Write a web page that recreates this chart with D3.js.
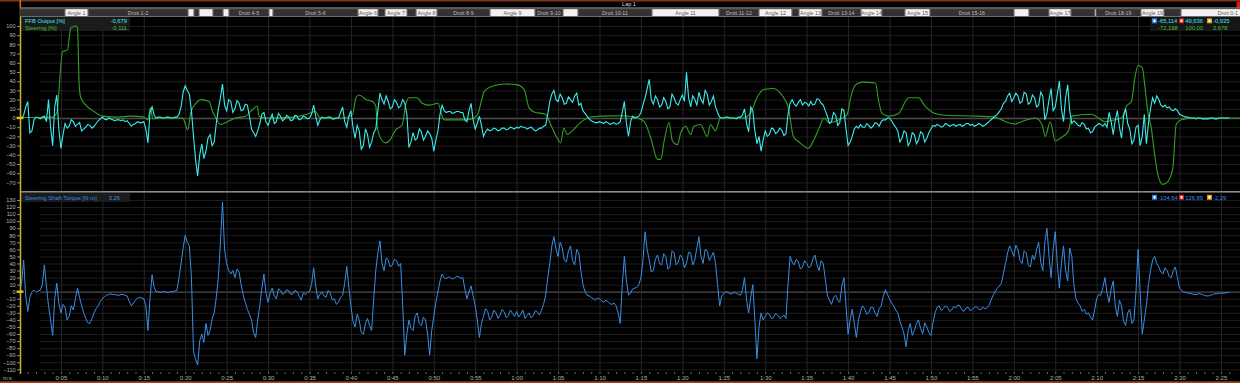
<!DOCTYPE html>
<html>
<head>
<meta charset="utf-8">
<script src="https://cdn.jsdelivr.net/npm/d3@7"></script>
<style>
  body { margin: 0; background: #000; }
  svg { display: block; font-family: "Liberation Sans", Arial, sans-serif; }
</style>
</head>
<body>
<div id="chart"></div>
<script>
// ---- data ----
const sampleStep = 0.25; // seconds between samples of the two logged channels

// FFB Output [%], one value every 0.25 s from 0:00 (20 values per row = 5 s)
const ffbOutput = [
  1, 0, 3, 12, 18, -16, -14, -2, 1, 0, -1, 1, 2, -4, 20, -10, -30, 12, 25, -12,               // 0 s
  -33, -18, -6, -11, -9, -2, -4, -9, -7, -5, -14, -12, -10, -7, -8, -11, -9, -6, -3, -1,      // 5 s
  1, -1, -2, 0, -1, -2, -3, -2, -2, -3, -2, -4, -3, -6, -9, -7, -6, -4, -5, -5,               // 10 s
  -4, -12, -27, 6, 12, 3, 0, 1, 1, 0, 0, 1, 1, 0, 0, 1, 1, 4, 12, 28,                         // 15 s
  35, 30, 26, 8, -20, -45, -63, -40, -28, -44, -36, -22, -18, -30, -26, -6, 10, 22, 37, 14,   // 20 s
  8, 20, 18, 6, 10, 19, 16, 8, 9, 15, 14, 2, -12, -16, -20, -14, -6, 4, 6, -4,                // 25 s
  -8, -1, 4, -6, -4, 5, 2, -3, -1, 3, 1, -3, -2, 3, 2, -2, -1, 2, 1, -1,                      // 30 s
  0, 4, 14, 2, -8, -2, 1, 0, 0, 1, 1, -1, -1, 0, 0, 6, 12, -4, -10, 2,                        // 35 s
  8, -10, -22, -8, -14, -34, -30, -12, -18, -32, -26, -16, -12, 8, 27, 20, 15, 24, 18, 10,    // 40 s
  12, 20, 17, 11, 13, 20, 16, 4, -32, -26, -16, -24, -22, -12, -15, -24, -20, -14, -17, -22,  // 45 s
  -36, -24, -14, 4, 14, 8, 6, 7, 7, 5, 6, 7, 7, 6, 6, -2, -4, 8, 16, -2,                      // 50 s
  -12, -6, 2, -8, -20, -15, -12, -14, -13, -11, -12, -14, -13, -11, -11, -13, -12, -10, -11, -12, // 55 s
  -10, -11, -9, -10, -10, -12, -11, -10, -12, -14, -13, -11, -11, -9, -8, 4, 18, 26, 30, 20,  // 60 s
  18, 26, 22, 15, 16, 23, 20, 17, 24, 27, 14, 16, 8, 5, 2, -1, -3, -4, -5, -5,                // 65 s
  -4, -5, -6, -4, -5, -7, -6, -5, -7, -6, -4, 6, 18, -6, -20, -4, 2, 0, 1, 2,                 // 70 s
  6, 14, 22, 32, 42, 20, 15, 24, 20, 12, 14, 22, 18, 10, 12, 26, 22, 16, 14, 20,              // 75 s
  25, 18, 49.6, 22, 12, 24, 20, 14, 28, 20, 16, 30, 26, 14, 18, 24, 12, 6, 1, 0,              // 80 s
  0, 1, 1, 0, 0, 0, -1, 1, 1, 3, 10, -6, -15, 12, 8, -14, -28, -20, -36, -24,                 // 85 s
  -14, -20, -18, -11, -12, -17, -15, -11, -13, -19, -17, 4, 16, 20, 15, 13, 17, 20, 14, 17,   // 90 s
  16, 13, 18, 14, 15, 21, 20, 16, 14, 8, 2, -6, -4, 6, 3, -8, -5, 10, 8, -12,                 // 95 s
  -30, -26, -20, -12, -9, -11, -7, -10, -10, -6, -8, -11, -9, -5, -6, -9, -4, -2, -2, 0,      // 100 s
  0, -3, -7, -10, -14, -26, -22, -14, -16, -30, -26, -16, -18, -28, -24, -15, -17, -26, -22, -16, // 105 s
  -12, -8, -9, -7, -8, -10, -9, -6, -7, -9, -8, -7, -9, -8, -7, -9, -8, -6, -6, -8,           // 110 s
  -7, -9, -8, -6, -7, -9, -8, -6, -4, -2, 0, 2, 4, 7, 10, 16, 18, 24, 27, 18,                 // 115 s
  22, 27, 24, 16, 18, 28, 26, 15, 17, 25, 22, 12, 14, 28, 24, -2, 5, 20, 32, 8,               // 120 s
  12, 26, 40, 10, -4, 22, 36, 8, -6, -3, -5, -8, -9, -5, -7, -12, -11, -16, -15, -10,         // 125 s
  -8, -6, -7, -9, -6, -10, 6, -4, -18, -2, 8, -10, -22, 2, 10, -6, -12, -28, -24, -10,        // 130 s
  -8, -30, -20, 4, -28, -6, 10, 22, 16, 24, 20, 14, 12, 14, 11, 12, 9, 8, 10, 8,              // 135 s
  4, 3, 2, 1, 1, 0, 0, 0, -1, 0, 0, -1, -1, -1, -1, 0, 0, -1, -1, 0,                          // 140 s
  0, 0, 0, 0, 0                                                                               // 145 s
];

// Steering Shaft Torque [N·m], one value every 0.25 s from 0:00
const shaftTorque = [
  2, 12, 45, -6, -28, -8, 0, 2, -1, 1, 2, 10, 38, 8, -20, -40, -62, -10, 12, -16,             // 0 s
  -30, -18, -22, -40, -35, -20, -26, -10, 5, -8, -20, -30, -38, -44, -45, -38, -30, -24, -20, -14, // 5 s
  -10, -7, -5, -4, -3, -4, -4, -5, -5, -4, -4, -5, -6, -14, -20, -16, -12, -9, -8, -9,        // 10 s
  -10, -20, -55, -10, 24, 6, 0, 0, -1, 0, 0, -1, -1, 0, 0, 1, 2, 20, 40, 62,                  // 15 s
  80, 70, 65, 20, -85, -96, -104, -70, -60, -72, -45, -62, -55, -38, -30, -8, 20, 70, 127, 60, // 20 s
  40, 30, 25, 30, 20, 32, 28, 10, -5, -15, -25, -32, -40, -58, -65, -40, -20, 5, 25, -2,      // 25 s
  -15, -2, 5, -6, -10, 4, 2, -4, -2, 3, 1, -4, -3, 2, 0, -6, -12, -2, -4, -1,                 // 30 s
  0, 10, 34, 8, -10, -4, 0, -6, -8, 2, -2, -12, -10, -18, -15, -8, -5, 12, 36, 6,             // 35 s
  -20, -42, -50, -32, -40, -58, -60, -45, -38, -48, -55, -10, 30, 55, 72, 40, 30, 48, 45, 35, // 40 s
  38, 46, 44, 36, 40, -20, -90, -60, -40, -52, -55, -35, -30, -45, -48, -36, -40, -60, -90, -55, // 45 s
  -35, -15, 0, 15, 25, 20, 18, 21, 20, 18, 19, 22, 21, 19, 20, 4, -10, 0, 8, -6,              // 50 s
  -20, -40, -65, -45, -35, -24, -28, -40, -36, -26, -30, -38, -33, -25, -29, -37, -34, -26, -31, -35, // 55 s
  -28, -36, -32, -26, -38, -34, -30, -37, -34, -27, -29, -33, -26, -18, -5, 20, 40, 65, 78, 60, // 60 s
  50, 70, 62, 45, 42, 58, 65, 44, 38, 60, 55, 30, 10, 0, -5, -6, -8, -10, -12, -9,            // 65 s
  -10, -13, -15, -12, -14, -17, -18, -16, -20, -30, -45, 10, 50, 15, -5, -2, 4, 5, 6, 10,     // 70 s
  20, 45, 85, 60, 45, 28, 30, 46, 52, 40, 38, 54, 50, 32, 35, 58, 55, 38, 42, 52,             // 75 s
  48, 34, 40, 56, 55, 38, 45, 62, 78, 50, 40, 60, 58, 44, 50, 56, 40, 10, -20, -6,            // 80 s
  -2, 0, -1, -3, -3, -1, -2, -4, -5, 2, 20, -12, -30, -8, 10, -40, -95, -50, -30, -40,        // 85 s
  -35, -30, -32, -38, -37, -31, -33, -38, -36, -33, -38, 10, 50, 42, 38, 46, 42, 32, 35, 44,  // 90 s
  40, 34, 36, 46, 52, 38, 30, 44, 40, 18, -5, -12, -18, -8, -5, -12, -15, 8, 20, -20,         // 95 s
  -60, -40, -25, -45, -65, -40, -28, -20, -24, -32, -30, -22, -22, -30, -35, -24, -20, -6, 3, -4, // 100 s
  -10, -16, -20, -26, -30, -42, -50, -60, -78, -55, -45, -62, -55, -45, -40, -52, -60, -44, -50, -58, // 105 s
  -62, -44, -30, -22, -20, -27, -24, -20, -22, -28, -26, -21, -23, -19, -20, -26, -28, -23, -22, -27, // 110 s
  -25, -22, -21, -25, -26, -22, -24, -23, -20, -12, -5, 0, 5, 8, 12, 26, 40, 55, 65, 58,      // 115 s
  50, 66, 60, 44, 40, 58, 55, 38, 35, 52, 45, 60, 70, 42, 30, 70, 90, 50, 20, 60,             // 120 s
  85, 40, 5, 40, 65, 30, 15, 62, 50, 10, -10, -16, -20, -28, -25, -32, -30, -36, -40, -26,    // 125 s
  -10, -4, -5, 6, 20, -2, -15, 4, 15, -20, -35, -12, -20, -42, -48, -30, -25, -45, -40, 0,    // 130 s
  60, 0, -60, -40, -20, 10, 30, 45, 50, 40, 35, 28, 25, 34, 30, 22, 20, 30, 35, 20,           // 135 s
  5, 2, 0, -1, -2, -2, -3, -4, -4, -3, -3, -4, -5, -6, -6, -5, -4, -3, -3, -2,                // 140 s
  -2, -2, -2, -1, -1                                                                          // 145 s
];

// Steering [%] as [time s, value]
const steering = [
  [0,0.5],[2,0.5],[4,1],[4.5,6],[5.2,72],[5.8,74],[6.0,87],[6.2,98],[6.8,100],[7.0,98],
  [7.2,36],[7.4,22],[8,14],[9,7],[10,2],[12,1],[13.3,2],[15,1],[15.5,-2],[15.8,11],
  [16.1,-1],[17,0],[19.7,0],[20.3,-13],[20.7,7],[21.3,16],[21.9,20],[22.9,18],[23.3,7],[23.7,0],
  [24.3,-7],[25.1,-4],[26.1,0],[27.3,2],[28.1,9],[28.7,13],[28.9,2],[29.7,0],[33,1],[35,5],
  [35.7,7],[36.3,0],[39,0],[40.2,4],[40.6,22],[41,25],[41.8,20],[42.6,18],[43,13],[43.2,-11],
  [43.8,-25],[44.2,-27],[44.6,-25],[45.4,-13],[46.2,-7],[46.6,14],[47,22],[48,22],[48.6,16],[49.4,14],
  [50.5,16],[51.1,0],[51.3,-2],[53.7,-2],[54.9,0],[55.3,4],[56.1,29],[56.9,34],[58.5,37],[60.1,36],
  [60.9,31],[61.5,11],[62.1,6.5],[63.5,4],[64.1,-7],[64.9,-22],[65.3,-27],[65.7,-11],[66.1,-18],[66.7,-14],
  [67.7,-5],[68.9,1],[70.1,2],[72.6,2.5],[73.4,2],[74.6,0],[75.4,-4],[76.2,-22],[77,-45],[77.4,-45],
  [77.8,-25],[78.4,-5],[78.8,-25],[79.4,-29],[79.8,-16],[80.4,-9],[81,-18],[81.4,-9],[82.2,-7],[83,-20],
  [83.4,-7],[84,-14],[84.6,0],[87.4,0],[88.2,5],[89,22],[89.8,31],[91,32],[92,25],[92.8,11],
  [93.4,-20],[94.2,-27],[95.2,-33],[95.8,-25],[96.5,-11],[97.1,0],[97.7,-5],[98.3,-4],[99.3,0],[99.9,4],
  [100.3,22],[100.9,36],[101.7,39],[103.3,38],[103.7,18],[104.1,5],[104.9,2],[106.1,5],[107.3,22],[108.5,22],
  [109.3,13],[110.5,5],[111.7,3],[115.7,2],[117.7,1],[119,-4],[120.1,-6.5],[120.9,-4],[122.6,0],[123.4,-7],
  [123.8,-20],[124.4,-4],[125,-25],[125.6,-22],[126.6,-14],[127,2],[129.4,4],[130.2,0],[131,-4],[132.2,-2],
  [133,0],[133.6,13],[134.2,18],[134.6,43],[135,57],[135.5,55],[135.8,36],[136.2,5],[136.6,-11],[137,-40],
  [137.4,-62],[138,-72.2],[138.6,-69],[139.2,-54],[139.6,-7],[140.2,-2],[141.8,0],[147.3,0]
];

// track sectors: start time (s) and label (empty when the box is too narrow for text)
const sectorStart = [0, 5.49, 8.27, 20.34, 21.06, 21.66, 23.35, 24.56, 25.28, 30.11,
  30.59, 40.85, 43.27, 44.11, 46.77, 47.86, 50.39, 56.78, 62.21, 65.59,
  67.4, 76.33, 84.42, 89.24, 93.22, 94.07, 96.84, 101.55, 104.08, 106.86,
  109.88, 120.02, 121.83, 124.24, 126.9, 129.79, 129.91, 135.34, 138.12, 140.17];
const sectorLabel = ["", "Angle 1", "Droit 1-2", "", "", "", "", "", "Droit 4-5", "",
  "Droit 5-6", "Angle 6", "", "Angle 7", "", "Angle 8", "Droit 8-9", "Angle 9", "Droit 9-10", "",
  "Droit 10-11", "Angle 11", "Droit 11-12", "Angle 12", "", "Angle 13", "Droit 13-14", "Angle 14", "", "Angle 15",
  "Droit 15-16", "", "", "Angle 17", "", "", "Droit 18-19", "Angle 19", "", "Droit 0-1"];
const sectorEndLast = 151.5;

const topTicks = [-70, -60, -50, -40, -30, -20, -10, 0, 10, 20, 30, 40, 50, 60, 70, 80, 90, 100];
const bottomTicks = [-110, -100, -90, -80, -70, -60, -50, -40, -30, -20, -10, 0, 10, 20, 30,
  40, 50, 60, 70, 80, 90, 100, 110, 120, 130];
const timeTicks = [5, 10, 15, 20, 25, 30, 35, 40, 45, 50, 55, 60, 65, 70, 75, 80, 85, 90, 95,
  100, 105, 110, 115, 120, 125, 130, 135, 140, 145];

const topLegend = [["FFB Output [%]", "-0,679"], ["Steering [%]", "-0,111"]];
const topStats = [["-65,114", "49,636", "-0,935"], ["-72,198", "100,00", "2,678"]];
const bottomLegend = ["Steering Shaft Torque [N·m]", "3,26"];
const bottomStats = ["-104,64", "126,89", "-2,29"];

// ---- layout ----
const W = 1240, H = 383;
const plotLeft = 20, plotRight = 1240;
const topPanel = {top: 17, bottom: 191};
const botPanel = {top: 193, bottom: 373};
const cFfb = "#3cecec", cSteer = "#32a024", cSteerText = "#44c03a", cTorque = "#3a8ee6";

const svg = d3.select("#chart").append("svg")
  .attr("width", W).attr("height", H);

svg.append("rect").attr("width", W).attr("height", H).attr("fill", "#000");

// scales
const x = d3.scaleLinear().domain([0, 147.3]).range([19.5, 1240]);
const yTop = d3.scaleLinear().domain([0, 100]).range([118, 26]);
const yBot = d3.scaleLinear().domain([0, 130]).range([291.7, 200]);

const defs = svg.append("defs");
defs.append("clipPath").attr("id", "clipTop").append("rect")
  .attr("x", plotLeft).attr("y", topPanel.top).attr("width", plotRight - plotLeft).attr("height", topPanel.bottom - topPanel.top);
defs.append("clipPath").attr("id", "clipBot").append("rect")
  .attr("x", plotLeft).attr("y", botPanel.top).attr("width", plotRight - plotLeft).attr("height", botPanel.bottom - botPanel.top);
defs.append("clipPath").attr("id", "clipSector").append("rect")
  .attr("x", plotLeft).attr("y", 0).attr("width", plotRight - plotLeft).attr("height", 20);

// grids
function hGrid(scale, ticks, clip) {
  svg.append("g").attr("clip-path", clip)
    .attr("transform", `translate(${plotLeft},0)`)
    .call(d3.axisLeft(scale).tickValues(ticks).tickSize(-(plotRight - plotLeft)).tickFormat(""))
    .call(g => g.select(".domain").remove())
    .selectAll("line").attr("stroke", d => d === 0 ? "#4e4e4e" : "#1d1d1d").attr("stroke-width", d => d === 0 ? 1.3 : 1);
}
hGrid(yTop, topTicks, "url(#clipTop)");
hGrid(yBot, bottomTicks, "url(#clipBot)");

[topPanel, botPanel].forEach(p => {
  svg.append("g")
    .attr("transform", `translate(0,${p.top})`)
    .call(d3.axisBottom(x).tickValues(timeTicks).tickSize(p.bottom - p.top).tickFormat(""))
    .call(g => g.select(".domain").remove())
    .selectAll("line").attr("stroke", "#262626");
});

// panel separator
svg.append("rect").attr("x", plotLeft).attr("y", 191).attr("width", plotRight - plotLeft).attr("height", 1.6).attr("fill", "#8a8a8a");

// legend boxes (drawn under the traces)
svg.append("rect").attr("x", 21).attr("y", 17).attr("width", 109).attr("height", 14).attr("fill", "#1b1b1b");
svg.append("rect").attr("x", 21).attr("y", 193).attr("width", 109).attr("height", 9).attr("fill", "#1b1b1b");
svg.append("rect").attr("x", 1150).attr("y", 17).attr("width", 90).attr("height", 14).attr("fill", "#161616");

// traces
const lineSampled = scale => d3.line().x((d, i) => x(i * sampleStep)).y(d => scale(d));

svg.append("path").datum(steering)
  .attr("clip-path", "url(#clipTop)")
  .attr("fill", "none").attr("stroke", cSteer).attr("stroke-width", 1.1)
  .attr("d", d3.line().x(d => x(d[0])).y(d => yTop(d[1])).curve(d3.curveMonotoneX));

svg.append("path").datum(ffbOutput)
  .attr("clip-path", "url(#clipTop)")
  .attr("fill", "none").attr("stroke", cFfb).attr("stroke-width", 1.1)
  .attr("d", lineSampled(yTop));

svg.append("path").datum(shaftTorque)
  .attr("clip-path", "url(#clipBot)")
  .attr("fill", "none").attr("stroke", cTorque).attr("stroke-width", 1)
  .attr("d", lineSampled(yBot));

// left axes
function leftAxis(scale, ticks) {
  svg.append("g")
    .attr("transform", `translate(${plotLeft},0)`)
    .call(d3.axisLeft(scale).tickValues(ticks).tickSize(3).tickPadding(1.5))
    .call(g => g.select(".domain").remove())
    .call(g => g.selectAll("line").attr("stroke", "#8a8a8a"))
    .call(g => g.selectAll("text").attr("fill", "#b8b8b8").style("font-size", "5.5px").style("font-family", "Liberation Sans, Arial"));
}
leftAxis(yTop, topTicks);
leftAxis(yBot, bottomTicks);

svg.append("line").attr("x1", 20.5).attr("x2", 20.5).attr("y1", 8).attr("y2", 374)
  .attr("stroke", "#c9b530").attr("stroke-width", 1.5);
[yTop(0), yBot(0)].forEach(y0 => {
  svg.append("rect").attr("x", 16.5).attr("y", y0 - 1.2).attr("width", 7).attr("height", 2.4).attr("fill", "#e8c400");
});

// time axis
const fmtTime = d => Math.floor(d / 60) + ":" + String(d % 60).padStart(2, "0");
svg.append("g")
  .attr("transform", `translate(0,${botPanel.bottom - 1})`)
  .call(d3.axisBottom(x).tickValues(d3.range(1, 147, 1)).tickSize(2).tickFormat(""))
  .call(g => g.select(".domain").remove())
  .selectAll("line").attr("stroke", "#6a6a6a");
svg.append("g")
  .attr("transform", `translate(0,${botPanel.bottom})`)
  .call(d3.axisBottom(x).tickValues(timeTicks).tickSize(0).tickPadding(3).tickFormat(fmtTime))
  .call(g => g.select(".domain").remove())
  .selectAll("text").attr("fill", "#b0b0b0").style("font-size", "6px").style("font-family", "Liberation Sans, Arial");
svg.append("text").attr("x", 3).attr("y", 380).attr("fill", "#b0b0b0").style("font-size", "5.5px").text("m:s");

// top and bottom borders
svg.append("rect").attr("x", 0).attr("y", 0).attr("width", W).attr("height", 1.5).attr("fill", "#7c3416");
svg.append("rect").attr("x", 0).attr("y", 381.3).attr("width", W).attr("height", 1.7).attr("fill", "#9c4618");
svg.append("rect").attr("x", 19.5).attr("y", 0).attr("width", 1.6).attr("height", 8).attr("fill", "#e0661c");
svg.append("rect").attr("x", 1236.5).attr("y", 1.5).attr("width", 3.5).attr("height", 6.5).attr("fill", "#e01212");

// lap row
svg.append("rect").attr("x", plotLeft + 1).attr("y", 7.3).attr("width", plotRight - plotLeft).attr("height", 0.9).attr("fill", "#7a7a7a");
svg.append("text").attr("x", 629).attr("y", 6.3).attr("text-anchor", "middle")
  .attr("fill", "#d8d8d8").style("font-size", "5.5px").text("Lap 1");

// sector row
const sectorRow = svg.append("g").attr("clip-path", "url(#clipSector)");
sectorRow.append("rect").attr("x", plotLeft).attr("y", 8.2).attr("width", plotRight - plotLeft).attr("height", 8.8).attr("fill", "#6c6c6c");
const sectors = sectorStart.map((s, i) => ({
  start: s,
  end: i < sectorStart.length - 1 ? sectorStart[i + 1] : sectorEndLast,
  label: sectorLabel[i],
  light: i % 2 === 1
}));
const sectorG = sectorRow.selectAll(".sector").data(sectors).enter().append("g").attr("class", "sector");
sectorG.append("rect")
  .attr("x", d => x(d.start) + 0.6)
  .attr("y", 9.2)
  .attr("width", d => Math.max(0.5, x(d.end) - x(d.start) - 1.2))
  .attr("height", 6.8)
  .attr("fill", d => d.light ? "#f2f2f2" : "#323232");
sectorG.append("text")
  .attr("x", d => (x(d.start) + x(d.end)) / 2)
  .attr("y", 14.7)
  .attr("text-anchor", "middle")
  .attr("fill", d => d.light ? "#5a5a5a" : "#bdbdbd")
  .style("font-size", "5.3px")
  .text(d => d.label);

// legends
const legendColors = [cFfb, cSteerText];
topLegend.forEach((row, i) => {
  svg.append("text").attr("x", 25).attr("y", 23.3 + i * 6.3).attr("fill", legendColors[i]).style("font-size", "5.8px").text(row[0]);
  svg.append("text").attr("x", 127).attr("y", 23.3 + i * 6.3).attr("text-anchor", "end").attr("fill", legendColors[i]).style("font-size", "5.8px").text(row[1]);
});
svg.append("text").attr("x", 25).attr("y", 199.8).attr("fill", cTorque).style("font-size", "5.8px").text(bottomLegend[0]);
svg.append("text").attr("x", 120).attr("y", 199.8).attr("text-anchor", "end").attr("fill", cTorque).style("font-size", "5.8px").text(bottomLegend[1]);

// min / max / average stats with their icons
const iconColors = ["#2b7fd8", "#d41e1e", "#e2961e"];
const iconX = [1152, 1179, 1207];
function statRow(values, y, color, withIcons) {
  svg.append("text").attr("x", 1158).attr("y", y).attr("fill", color).style("font-size", "5.8px").text(values[0]);
  svg.append("text").attr("x", 1203).attr("y", y).attr("text-anchor", "end").attr("fill", color).style("font-size", "5.8px").text(values[1]);
  svg.append("text").attr("x", 1213).attr("y", y).attr("fill", color).style("font-size", "5.8px").text(values[2]);
  if (withIcons) {
    iconX.forEach((ix, k) => {
      svg.append("rect").attr("x", ix).attr("y", y - 5).attr("width", 5).attr("height", 5).attr("fill", iconColors[k]);
      svg.append("rect").attr("x", ix + 1.5).attr("y", y - 3.8).attr("width", 2).attr("height", 2.6).attr("fill", "#fff");
    });
  }
}
statRow(topStats[0], 23.3, cFfb, true);
statRow(topStats[1], 29.6, cSteerText, false);
statRow(bottomStats, 199.8, cTorque, true);
</script>
</body>
</html>
